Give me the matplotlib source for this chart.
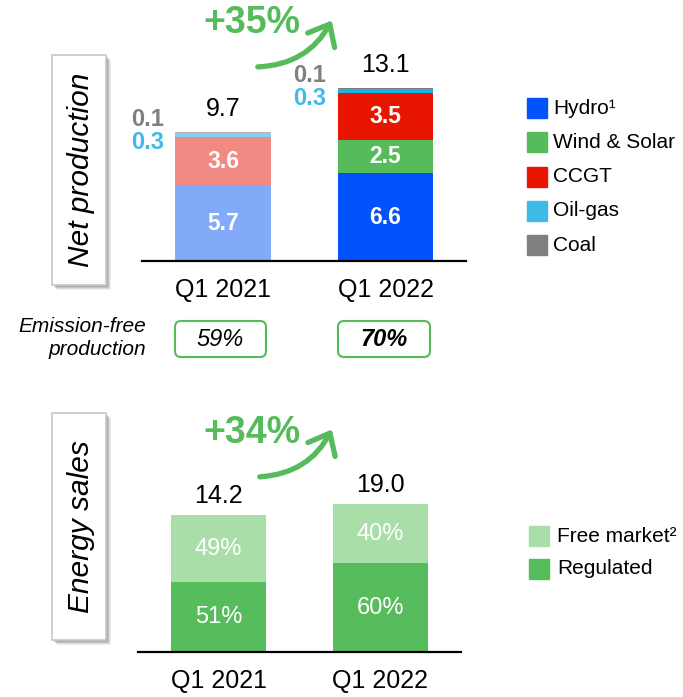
import matplotlib
matplotlib.use('Agg')
import matplotlib.pyplot as plt
from matplotlib.patches import Rectangle, FancyBboxPatch, FancyArrowPatch

plt.rcParams['font.family'] = ['Liberation Sans', 'DejaVu Sans']

# ---- data ----
quarters = ['Q1 2021', 'Q1 2022']

# net production (TWh), stacked bottom -> top
techs = ['Hydro¹', 'Wind & Solar', 'CCGT', 'Oil-gas', 'Coal']
hydro = [5.7, 6.6]
wind_solar = [0.0, 2.5]
ccgt = [3.6, 3.5]
oil_gas = [0.3, 0.3]
coal = [0.1, 0.1]
net_total = ['9.7', '13.1']
net_growth = '+35%'
emission_free = ['59%', '70%']

# energy sales
sales_total = ['14.2', '19.0']
regulated_pct = [51, 60]
free_pct = [49, 40]
sales_bar_h = [137, 148]   # bar heights as drawn on the slide (not to scale)
sales_growth = '+34%'
sales_names = ['Free market²', 'Regulated']

# colours: 2021 bars are faded versions
col_2022 = ['#0452fb', '#55bb5b', '#e81600', '#18b2ec', '#7f7f7f']
col_2021 = ['#82aaf8', '#9ed69f', '#f08a82', '#80d2f2', '#b4b4b4']
col_legend = ['#0452fb', '#55bb5b', '#e81600', '#3fb9e6', '#7f7f7f']
col_free = '#a9dea8'
col_reg = '#57bd5c'
green = '#55bb5b'

W, H = 683, 697
fig = plt.figure(figsize=(W / 100, H / 100), dpi=100)

# overlay in pixel coords for boxes, arrows, legends
ov = fig.add_axes([0, 0, 1, 1])
ov.set_xlim(0, W)
ov.set_ylim(H, 0)
ov.axis('off')


def px_axes(l, r, top, base):
    a = fig.add_axes([l / W, (H - base) / H, (r - l) / W, (base - top) / H])
    a.set_facecolor('none')
    for s in ['top', 'left', 'right']:
        a.spines[s].set_visible(False)
    a.spines['bottom'].set_linewidth(1.6)
    a.set_yticks([])
    a.tick_params(axis='x', length=0, pad=12, labelsize=18)
    return a


# ---- net production ----
ax1 = px_axes(142, 466, 0, 261)
ax1.set_xlim(-0.498, 1.495)
ax1.set_ylim(0, 261 / 13.33)
bw = 0.59
x = [0, 1]
series = [hydro, wind_solar, ccgt, oil_gas, coal]
bottom = [0.0, 0.0]
for k, vals in enumerate(series):
    ax1.bar(x, vals, bw, bottom=bottom, color=[col_2021[k], col_2022[k]])
    if k < 3:
        for i in x:
            if vals[i] >= 1:
                ax1.text(i, bottom[i] + vals[i] / 2, f'{vals[i]:.1f}', color='white',
                         fontsize=16.5, fontweight='bold', ha='center', va='center')
    bottom = [bottom[i] + vals[i] for i in x]

for i in x:
    ax1.annotate(net_total[i], (i, bottom[i]), xytext=(0, 16), textcoords='offset points',
                 ha='center', va='center', fontsize=18)
    ax1.annotate(f'{coal[i]:.1f}', (i - bw / 2, bottom[i]), xytext=(-8, 9),
                 textcoords='offset points', ha='right', va='center',
                 fontsize=17, fontweight='bold', color='#808080')
    ax1.annotate(f'{oil_gas[i]:.1f}', (i - bw / 2, bottom[i]), xytext=(-8, -8),
                 textcoords='offset points', ha='right', va='center',
                 fontsize=17, fontweight='bold', color='#3fb9e6')
ax1.set_xticks(x)
ax1.set_xticklabels(quarters)

# ---- energy sales ----
ax2 = px_axes(138, 461, 390, 652)
ax2.set_xlim(-0.497, 1.497)
ax2.set_ylim(0, 262)
bw2 = 0.586
reg_h = [sales_bar_h[i] * regulated_pct[i] / 100 for i in x]
free_h = [sales_bar_h[i] * free_pct[i] / 100 for i in x]
ax2.bar(x, reg_h, bw2, color=col_reg)
ax2.bar(x, free_h, bw2, bottom=reg_h, color=col_free)
for i in x:
    ax2.text(i, reg_h[i] / 2, f'{regulated_pct[i]}%', color='white', fontsize=17,
             ha='center', va='center')
    ax2.text(i, reg_h[i] + free_h[i] / 2, f'{free_pct[i]}%', color='white', fontsize=17,
             ha='center', va='center')
    ax2.annotate(sales_total[i], (i, sales_bar_h[i]), xytext=(0, 14), textcoords='offset points',
                 ha='center', va='center', fontsize=18)
ax2.set_xticks(x)
ax2.set_xticklabels(quarters)


# ---- side boxes (soft drop shadow) ----
def side_box(y0, y1, label):
    for d, a in [(5, 0.12), (4, 0.18), (3, 0.25), (2, 0.3)]:
        ov.add_patch(Rectangle((52 + d, y0 + d), 54, y1 - y0, color='#808080', alpha=a,
                               lw=0, zorder=1))
    ov.add_patch(Rectangle((52, y0), 54, y1 - y0, facecolor='white', edgecolor='#c8c8c8',
                           lw=1.2, zorder=2))
    ov.text(81, (y0 + y1) / 2, label, rotation=90, ha='center', va='center',
            fontsize=21.5, style='italic', zorder=3)


side_box(55, 285, 'Net production')
side_box(413, 640, 'Energy sales')


# ---- growth arrows ----
def growth(label, tx, ty, start, end):
    ov.text(tx, ty, label, color=green, fontsize=27, fontweight='bold', ha='center', va='center')
    ov.add_patch(FancyArrowPatch(start, end, connectionstyle='arc3,rad=0.3',
                                 arrowstyle='->,head_length=0.6,head_width=0.5',
                                 mutation_scale=22, color=green, lw=3.8, capstyle='round',
                                 joinstyle='round'))


growth(net_growth, 252, 23, (255, 67), (333, 18))
growth(sales_growth, 252, 433, (257, 477), (333, 427))

# ---- emission-free row ----
ov.text(146, 338, 'Emission-free\nproduction', ha='right', va='center', fontsize=15,
        style='italic', linespacing=1.25)
for i, (xl, xr) in enumerate([(175, 266), (338, 430)]):
    ov.add_patch(FancyBboxPatch((xl, 321), xr - xl, 36, boxstyle='round,pad=0,rounding_size=6',
                                facecolor='white', edgecolor=green, lw=1.5))
    ov.text((xl + xr) / 2, 339.5, emission_free[i], ha='center', va='center', fontsize=17,
            style='italic', fontweight='bold' if i == 1 else 'normal')

# ---- legends ----
for k, name in enumerate(techs):
    yc = 108 + k * 34.3
    ov.add_patch(Rectangle((527, yc - 10), 20, 20, color=col_legend[k]))
    ov.text(553, yc, name, ha='left', va='center', fontsize=15)
for k, (name, c) in enumerate(zip(sales_names, [col_free, col_reg])):
    yc = 536 + k * 33
    ov.add_patch(Rectangle((529, yc - 10), 20, 20, color=c))
    ov.text(557, yc, name, ha='left', va='center', fontsize=15)

fig.savefig('out.png', dpi=100)
